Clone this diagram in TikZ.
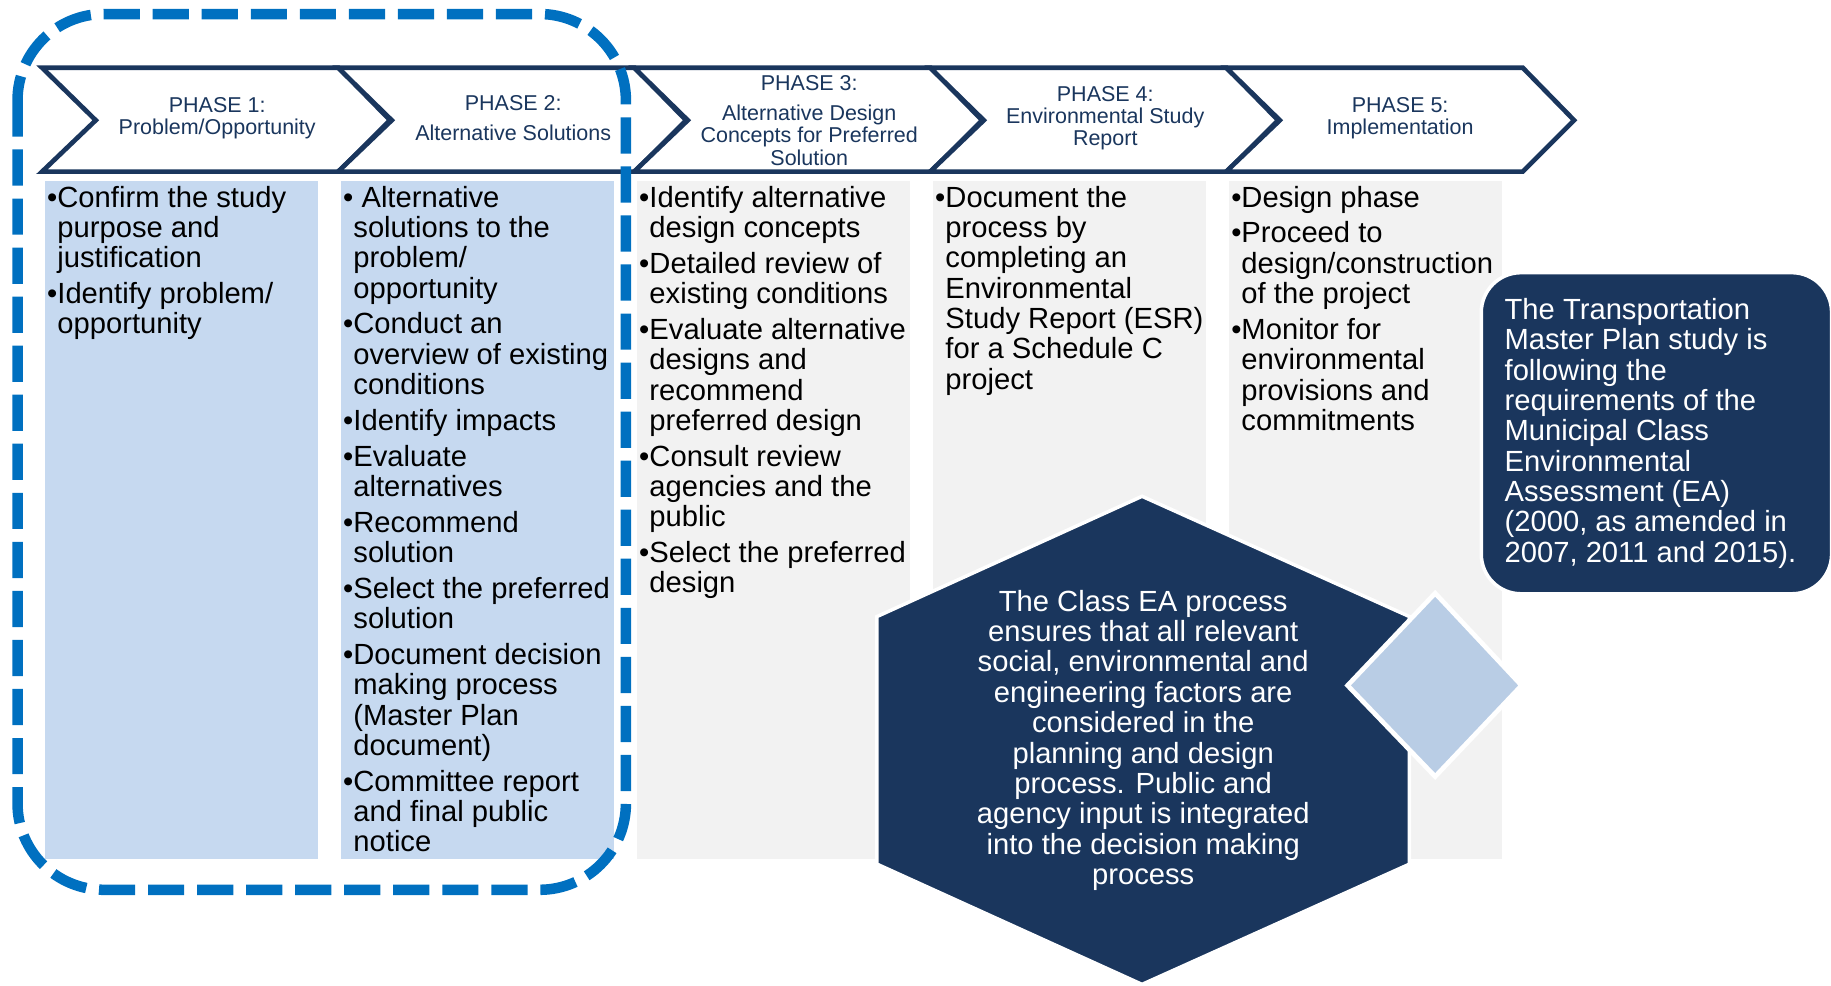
\documentclass[tikz,border=0pt]{standalone}
\usepackage{fontspec}
\setmainfont{Liberation Sans}
\usepackage{tikz}
\usetikzlibrary{positioning}
\definecolor{eanavy}{RGB}{26, 54, 93}
\definecolor{phaseblue}{RGB}{198, 217, 240}
\definecolor{phasegrey}{RGB}{242, 242, 242}
\definecolor{diablue}{RGB}{185, 205, 229}
\definecolor{ringblue}{RGB}{0, 112, 192}

\newsavebox{\bulbox}
\newcommand{\itm}[1]{\par\sbox{\bulbox}{\textbullet}\hangindent=\wd\bulbox\hangafter=1
  \noindent\usebox{\bulbox}#1\par\vspace{2.3pt}}

\begin{document}
\begin{tikzpicture}[
  x=0.5pt, y=-0.5pt,
  colbox/.style={rectangle, inner sep=0pt, anchor=north west,
                 minimum width=117pt, minimum height=290pt},
  chev/.style={draw=eanavy, line width=2pt, fill=white, line join=miter},
  phlabel/.style={align=center, text=eanavy, inner sep=0pt,
                  font=\fontsize{9.2}{9.5}\selectfont},
  bodytext/.style={inner sep=0pt, text width=124pt, align=flush left,
                   font=\fontsize{12.5}{13}\selectfont},
  hexshape/.style={fill=eanavy, draw=white, line width=1.5pt, line join=miter},
  diashape/.style={fill=diablue, draw=white, line width=2pt, line join=miter},
  notebox/.style={rectangle, fill=eanavy, draw=white, line width=1.5pt,
                  rounded corners=17pt, anchor=north west,
                  minimum width=150pt, minimum height=137.5pt,
                  text width=130pt, inner xsep=10pt, align=flush left,
                  text=white, font=\fontsize{12.5}{13}\selectfont},
  ring/.style={draw=ringblue, line width=4.5pt,
               dash pattern=on 15.5pt off 5.5pt, rounded corners=37pt}
]
\useasboundingbox (0,0) rectangle (1568,844);

% columns under the phases
\foreach \i/\c in {1/phaseblue, 2/phaseblue, 3/phasegrey, 4/phasegrey, 5/phasegrey}
  \node[colbox, fill=\c] (col\i) at ({38+253.5*(\i-1)},155) {};

% phase chevrons
\foreach \i in {1,...,5}
  \draw[chev] ({36+253.5*(\i-1)},58) -- ++(254,0) -- ++(44,45) -- ++(-44,44)
    -- ++(-254,0) -- ++(46,-44) -- cycle;

\node[phlabel] (ph1) at (186,101.5)  {PHASE 1:\\Problem/Opportunity};
\node[phlabel] (ph2) at (439.5,101)  {PHASE 2:\\[3.5pt]Alternative Solutions};
\node[phlabel] (ph3) at (693,103)    {PHASE 3:\\[3.5pt]Alternative Design\\Concepts for Preferred\\Solution};
\node[phlabel] (ph4) at (946.5,101)  {PHASE 4:\\Environmental Study\\Report};
\node[phlabel] (ph5) at (1199,101.5) {PHASE 5:\\Implementation};

% bullet lists
\node[bodytext, below right=-2pt and 1pt of col1.north west] (txt1) {%
  \itm{Confirm the study\newline purpose and\newline justification}
  \itm{Identify problem/\newline opportunity}};
\node[bodytext, below right=-2pt and 1pt of col2.north west] (txt2) {%
  \itm{\ Alternative\newline solutions to the\newline problem/\newline opportunity}
  \itm{Conduct an\newline overview of existing\newline conditions}
  \itm{Identify impacts}
  \itm{Evaluate\newline alternatives}
  \itm{Recommend\newline solution}
  \itm{Select the preferred\newline solution}
  \itm{Document decision\newline making process\newline (Master Plan\newline document)}
  \itm{Committee report\newline and final public\newline notice}};
\node[bodytext, below right=-2pt and 1pt of col3.north west] (txt3) {%
  \itm{Identify alternative\newline design concepts}
  \itm{Detailed review of\newline existing conditions}
  \itm{Evaluate alternative\newline designs and\newline recommend\newline preferred design}
  \itm{Consult review\newline agencies and the\newline public}
  \itm{Select the preferred\newline design}};
\node[bodytext, below right=-2pt and 1pt of col4.north west] (txt4) {%
  \itm{Document the\newline process by\newline completing an\newline Environmental\newline
       Study Report (ESR)\newline for a Schedule C\newline project}};
\node[bodytext, below right=-2pt and 1pt of col5.north west] (txt5) {%
  \itm{Design phase}
  \itm{Proceed to\newline design/construction\newline of the project}
  \itm{Monitor for\newline environmental\newline provisions and\newline commitments}};

% phases 1 and 2
\draw[ring] (15,12) rectangle (536,762);

% Class EA hexagon
\draw[hexshape] (978,425) -- (1207,528) -- (1207,740) -- (978,843)
  -- (751,740) -- (751,528) -- cycle;
\node[align=center, text=white, font=\fontsize{12.5}{13}\selectfont] (classea) at (979,634)
  {The Class EA process\\ensures that all relevant\\social, environmental and\\
   engineering factors are\\considered in the\\planning and design\\
   process. Public and\\agency input is integrated\\into the decision making\\process};

\draw[diashape] (1229,508) -- (1303,587) -- (1229,665) -- (1154,587) -- cycle;

\node[notebox] (tmp) at (1267,232)
  {The Transportation\\Master Plan study is\\following the\\requirements of the\\
   Municipal Class\\Environmental\\Assessment (EA)\\(2000, as amended in\\
   2007, 2011 and 2015).};

\end{tikzpicture}
\end{document}
